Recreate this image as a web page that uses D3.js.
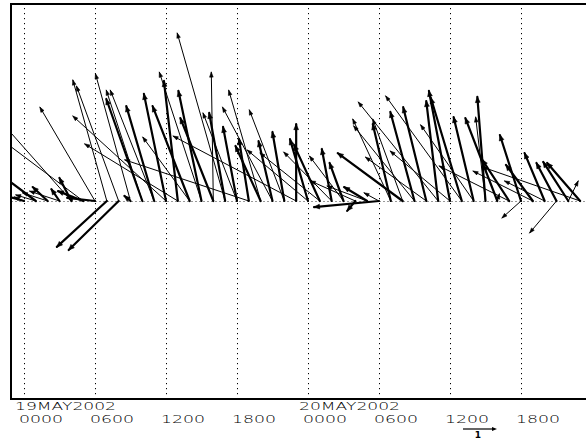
<!DOCTYPE html>
<html><head><meta charset="utf-8">
<script src="https://cdn.jsdelivr.net/npm/d3@7"></script>
<style>body{margin:0;background:#fff}svg{display:block}</style>
</head><body>
<svg id="c" width="586" height="439"></svg>
<script>
// Hours since 19MAY2002 0000 UTC
const hours = [0,1,2,3,4,5,6,7,8,9,10,11,12,13,14,15,16,17,18,19,20,21,22,23,
  24,25,26,27,28,29,30,31,32,33,34,35,36,37,38,39,40,41,42,43,44,45,46,47];
// Thick series (u east, v north)
const thickU = [-0.65,-1.18,-0.44,-0.24,-0.35,-0.74,-0.82,-1.47,-1.47,-0.18,-1.06,-0.82,-0.65,-0.41,-1.09,-0.68,
  -0.97,-0.47,-0.41,-0.29,-0.74,-0.41,-0.35,0.00,-0.53,-0.76,-0.29,-0.41,-0.24,-0.68,-1.91,-0.53,
  -1.91,-0.71,-0.68,-0.35,-0.62,-0.91,-0.59,-0.24,-0.94,-0.79,-0.62,-0.79,-0.59,-0.59,-0.74,-0.97];
const thickV = [0.18,0.88,0.41,0.35,0.68,0.29,0.09,-1.35,-1.44,0.15,3.00,2.79,3.15,3.53,2.79,3.24,
  2.44,2.59,2.18,1.82,1.62,1.76,2.03,2.26,1.82,1.65,1.53,1.12,-0.29,0.41,-0.18,2.26,
  1.41,2.62,2.76,2.94,3.24,3.03,2.47,3.06,2.44,1.21,1.94,1.06,1.41,1.12,1.15,1.12];
// Thin series
const thinU = [-0.29,-0.59,-0.74,-0.88,-2.35,-2.94,-1.62,-1.00,-1.24,-1.03,-1.06,-1.29,-2.74,-2.74,-1.38,-1.24,
  -0.06,-1.41,-1.00,-3.65,-0.94,-1.47,-1.03,-3.62,-1.79,-1.76,-1.41,-1.00,-1.32,-1.18,-0.44,-1.12,
  -0.88,-1.79,-1.79,-2.35,-1.76,-2.24,-1.56,-0.29,0.06,-2.06,-0.56,-1.76,-1.18,-0.79,0.29,-2.88];
const thinV = [0.12,0.18,0.24,0.29,2.65,2.21,2.76,3.56,3.38,3.74,3.26,3.26,2.50,1.68,1.88,3.79,
  3.79,4.94,2.59,1.21,3.26,2.76,2.68,1.91,1.50,1.41,1.44,1.32,0.59,0.44,0.24,2.41,
  2.41,2.21,1.29,2.91,1.47,3.09,2.24,2.47,0.21,1.03,-0.50,0.88,0.59,-0.94,0.59,1.00];
// Axis ticks
const tickHours = [0,6,12,18,24,30,36,42];
const tickLabels = ["0000","0600","1200","1800","0000","0600","1200","1800"];
const dateHours = [0,24];
const dateLabels = ["19MAY2002","20MAY2002"];
const refValue = [1];
const refLabel = ["1"];

const svg = d3.select("#c");
const W = 586, H = 439;
const L = 11, T = 4, B = 399, R = 600;
const baseY = 201;
const t0 = Date.UTC(2002,4,19,0);
const toDate = h => new Date(t0 + h*3600e3);
const x = d3.scaleUtc().domain([toDate(0), toDate(42)]).range([24, 521]);
const vs = d3.scaleLinear().domain([0,1]).range([0,34]);

svg.append("rect").attr("width",W).attr("height",H).attr("fill","#fff");
svg.append("defs").append("clipPath").attr("id","pc")
  .append("rect").attr("x",L).attr("y",T).attr("width",R-L).attr("height",B-T);

// vertical dotted grid
svg.append("g").selectAll("line").data(tickHours).join("line")
  .attr("x1",d=>Math.round(x(toDate(d)))+0.5).attr("x2",d=>Math.round(x(toDate(d)))+0.5)
  .attr("y1",T+4).attr("y2",B)
  .attr("stroke","#000").attr("stroke-width",1).attr("stroke-dasharray","1.2,3.8");

// baseline
svg.append("line").attr("x1",L).attr("x2",W).attr("y1",baseY+0.5).attr("y2",baseY+0.5)
  .attr("stroke","#999").attr("stroke-width",1).attr("stroke-dasharray","2,2");

const g = svg.append("g").attr("clip-path","url(#pc)");
function vec(sel, us, vsArr, width, headLen, headW){
  const data = hours.map((h,i)=>({h,u:us[i],v:vsArr[i]}));
  const items = sel.selectAll(null).data(data).join("g");
  items.append("line")
    .attr("x1",d=>x(toDate(d.h))).attr("y1",baseY)
    .attr("x2",d=>x(toDate(d.h))+vs(d.u)).attr("y2",d=>baseY - vs(d.v))
    .attr("stroke","#000").attr("stroke-width",width).attr("stroke-linecap","round");
  items.append("path").attr("d",d=>{
    const x0=x(toDate(d.h)), y0=baseY, x1=x0+vs(d.u), y1=y0-vs(d.v);
    const a=Math.atan2(y1-y0,x1-x0);
    const bx=x1-headLen*Math.cos(a), by=y1-headLen*Math.sin(a);
    const px=-Math.sin(a)*headW, py=Math.cos(a)*headW;
    return `M${x1},${y1}L${bx+px},${by+py}L${bx-px},${by-py}Z`;
  }).attr("fill","#000").attr("stroke","#000").attr("stroke-width",0.6);
}
vec(g.append("g"), thinU, thinV, 1, 5, 1.8);
vec(g.append("g"), thickU, thickV, 2.2, 5.5, 2.4);

// frame
svg.append("path").attr("d",`M${W},${T}H${L}V${B}H${W}`)
  .attr("fill","none").attr("stroke","#000").attr("stroke-width",2);

// labels
const font = "'DejaVu Sans', sans-serif";
svg.append("g").selectAll("text").data(tickHours).join("text")
  .attr("x",d=>x(toDate(d))-5).attr("y",423)
  .attr("textLength",44).attr("lengthAdjust","spacingAndGlyphs")
  .attr("font-family",font).attr("font-size",11).attr("font-weight",300)
  .text((d,i)=>tickLabels[i]);
svg.append("g").selectAll("text").data(dateHours).join("text")
  .attr("x",d=>x(toDate(d))-9).attr("y",410)
  .attr("textLength",101).attr("lengthAdjust","spacingAndGlyphs")
  .attr("font-family",font).attr("font-size",11).attr("font-weight",300)
  .text((d,i)=>dateLabels[i]);

// reference vector
const rx0 = 463, ry = 429;
svg.append("line").attr("x1",rx0).attr("x2",rx0+vs(refValue[0])-3).attr("y1",ry).attr("y2",ry)
  .attr("stroke","#000").attr("stroke-width",1.2);
svg.append("path").attr("d",`M${rx0+vs(refValue[0])},${ry}l-5,-2v4z`).attr("fill","#000");
svg.append("text").attr("x",rx0+vs(refValue[0])/2-2).attr("y",438)
  .attr("text-anchor","middle").attr("font-family",font).attr("font-size",9).attr("font-weight","bold")
  .text(refLabel[0]);
</script>
</body></html>
